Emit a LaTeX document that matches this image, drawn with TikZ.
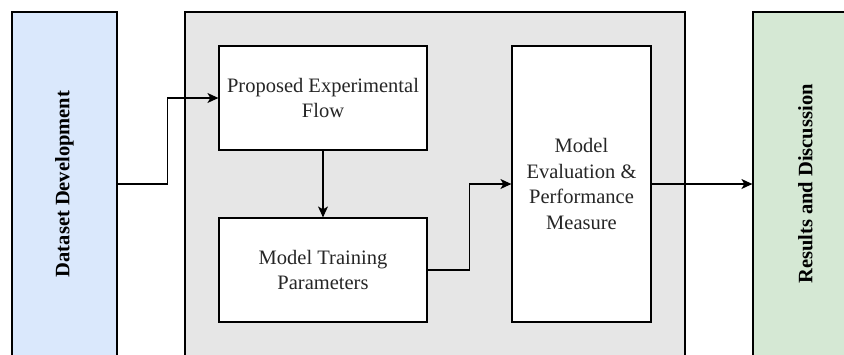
\documentclass[tikz,border=0pt]{standalone}
\usepackage{fontspec}
\setmainfont{Liberation Serif}
\usetikzlibrary{arrows.meta}
\definecolor{dsblue}{HTML}{DAE8FC}
\definecolor{flowgray}{HTML}{E6E6E6}
\definecolor{resgreen}{HTML}{D5E8D4}

\begin{document}
\begin{tikzpicture}[x=1pt,y=-1pt,
    side/.style={draw=black, line width=1.2pt, minimum width=105pt, minimum height=344pt, inner sep=0pt},
    stage/.style={draw=black, line width=1.2pt, fill=white, minimum width=208pt, minimum height=104pt,
      inner sep=0pt, align=center, text=black!85, font=\fontsize{20.5}{25.5}\selectfont},
    vtext/.style={rotate=90, font=\fontsize{20.5}{24}\selectfont\bfseries},
    link/.style={line width=1.3pt, -{Stealth[length=11pt,width=10pt,inset=3pt]}}]
  \useasboundingbox (0,0) rectangle (844,354);
  \clip (0,0) rectangle (844,354);
  % outer blocks, cut off at the bottom
  \node[side, fill=dsblue] (dataset) at (64.5,184) {};
  \node[vtext] (datasetlbl) at (dataset.center) {Dataset Development};
  \node[side, fill=flowgray, minimum width=500pt] (flow) at (435,184) {};
  \node[side, fill=resgreen] (results) at (805.5,184) {};
  \node[vtext] (resultslbl) at (results.center) {Results and Discussion};
  % inner steps
  \node[stage] (proposed) at (323,98) {Proposed Experimental\\Flow};
  \node[stage] (training) at (323,270) {Model Training\\Parameters};
  \node[stage, minimum width=139pt, minimum height=276pt] (evaluation) at (581.5,184)
    {Model\\Evaluation \&\\Performance\\Measure};
  % connectors
  \draw[link] (dataset.east) -- ++(50,0) |- (proposed.west);
  \draw[link] (proposed.south) -- (training.north);
  \draw[link] (training.east) -- ++(42,0) |- (evaluation.west);
  \draw[link] (evaluation.east) -- (results.west);
\end{tikzpicture}
\end{document}
